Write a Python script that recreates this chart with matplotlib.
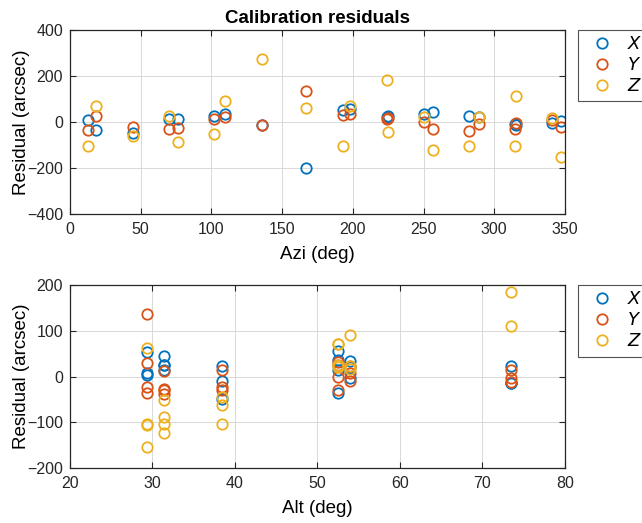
import numpy as np
import matplotlib
matplotlib.use("Agg")
import matplotlib.pyplot as plt

plt.rcParams['font.family'] = ['Liberation Sans', 'DejaVu Sans']

# one entry per calibration star
azi = [12.8, 18.3, 44.5, 70.3, 76.6, 102.0, 109.3, 135.5, 166.8, 192.8, 198.3,
       224.0, 225.0, 250.0, 256.5, 282.3, 289.3, 314.5, 315.5, 340.5, 347.0]
alt = [29.3, 52.5, 38.4, 52.5, 31.4, 31.4, 53.9, 73.5, 29.3, 29.3, 52.5,
       73.5, 38.4, 52.5, 31.4, 31.4, 53.9, 38.4, 73.5, 53.9, 29.3]
res_x = [7, -36, -50, 14, 14, 25, 33, -14, -202, 53, 55,
         22, 24, 36, 45, 25, 20, -9, -14, -4, 3]
res_y = [-36, 25, -22, -29, -27, 13, 22, -12, 136, 29, 32,
         14, 15, -2, -30, -38, -9, -30, -4, 7, -23]
res_z = [-106, 71, -62, 25, -88, -51, 90, 272, 62, -103, 71,
         184, -45, 20, -124, -103, 22, -103, 111, 17, -153]

series = [("$X$", res_x, "#0072BD"), ("$Y$", res_y, "#D95319"), ("$Z$", res_z, "#EDB120")]

fig = plt.figure(figsize=(6.42, 5.23), dpi=100)
ax1 = fig.add_axes([0.109, 0.591, 0.771, 0.352])
ax2 = fig.add_axes([0.109, 0.105, 0.771, 0.350])


def style(ax):
    ax.grid(True, color="#d9d9d9", linewidth=0.7)
    ax.set_axisbelow(True)
    ax.tick_params(direction="in", top=True, right=True, labelsize=11.5,
                   colors="#262626", length=4, width=0.8)
    ax.tick_params(axis="x", pad=6)
    ax.tick_params(axis="y", pad=5)
    for s in ax.spines.values():
        s.set_color("#262626")
        s.set_linewidth(0.9)


for ax, xs, ylim in [(ax1, azi, 400), (ax2, alt, 200)]:
    for name, vals, col in series:
        v = np.array(vals, dtype=float)
        x = np.array(xs, dtype=float)
        keep = np.abs(v) <= ylim  # markers outside the limits are not drawn
        ax.plot(x[keep], v[keep], "o", mfc="none", mec=col, mew=1.3, ms=7.5, label=name)
    style(ax)
    leg = ax.legend(loc="upper left", bbox_to_anchor=(1.026, 1.0), fancybox=False,
                    edgecolor="#262626", fontsize=13, handletextpad=0.4,
                    borderaxespad=0, labelspacing=0.22, borderpad=0.35,
                    handlelength=2.0)
    leg.get_frame().set_linewidth(0.8)

ax1.set_xlim(0, 350)
ax1.set_ylim(-400, 400)
ax1.set_xticks(np.arange(0, 351, 50))
ax1.set_yticks(np.arange(-400, 401, 200))
ax1.set_xlabel("Azi (deg)", fontsize=13.5, labelpad=6)
ax1.set_ylabel("Residual (arcsec)", fontsize=13.5, labelpad=-2)
ax1.set_title("Calibration residuals", fontsize=13.5, fontweight="bold", pad=5)

ax2.set_xlim(20, 80)
ax2.set_ylim(-200, 200)
ax2.set_xticks(np.arange(20, 81, 10))
ax2.set_yticks(np.arange(-200, 201, 100))
ax2.set_xlabel("Alt (deg)", fontsize=13.5, labelpad=6)
ax2.set_ylabel("Residual (arcsec)", fontsize=13.5, labelpad=-2)

fig.savefig("out.png", dpi=100)
